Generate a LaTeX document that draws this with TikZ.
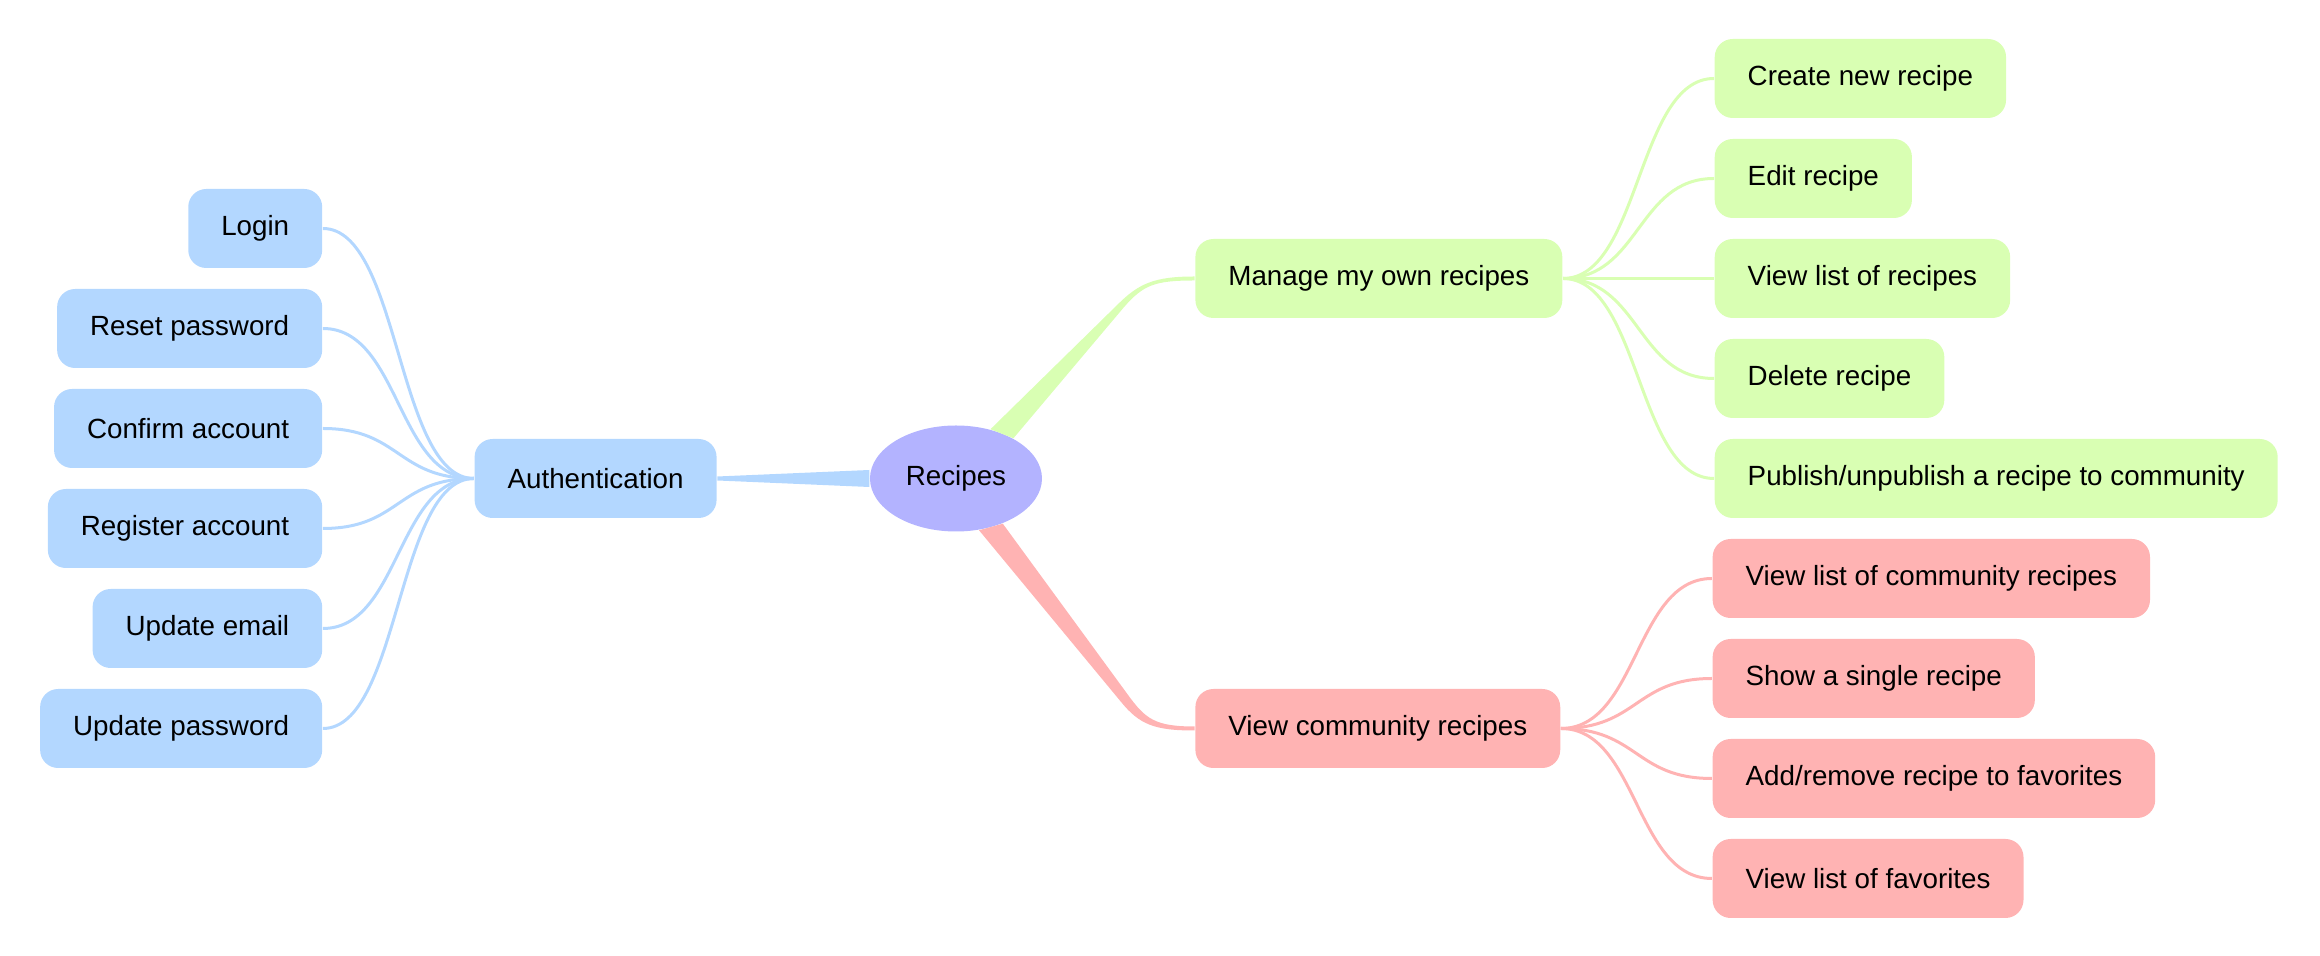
\documentclass[tikz,border=0pt]{standalone}
\usepackage{fontspec}
\setmainfont{Liberation Sans}
\usetikzlibrary{positioning,shapes.geometric}
\definecolor{AuthBlue}{HTML}{B3D7FF}
\definecolor{OwnGreen}{HTML}{D9FFB3}
\definecolor{CommRed}{HTML}{FFB3B3}
\definecolor{RootViolet}{HTML}{B3B3FF}
\tikzset{
  leaf/.style={rounded corners=1.8mm, minimum height=7.9mm, inner xsep=3.3mm, inner ysep=1mm, font=\fontsize{7.9pt}{9.5pt}\selectfont},
  bluebox/.style={leaf, fill=AuthBlue},
  greenbox/.style={leaf, fill=OwnGreen},
  redbox/.style={leaf, fill=CommRed},
  rootnode/.style={ellipse, fill=RootViolet, minimum width=17.2mm, minimum height=10.6mm, inner sep=0pt, font=\fontsize{7.9pt}{9.5pt}\selectfont},
  curvy/.style={line width=0.3mm, to path={.. controls +(7.7mm,0) and +(-7.7mm,0) .. (\tikztotarget)}},
  bline/.style={curvy, draw=AuthBlue},
  gline/.style={curvy, draw=OwnGreen},
  rline/.style={curvy, draw=CommRed}
}
\begin{document}
\begin{tikzpicture}[node distance=15.1mm]
\useasboundingbox (-95.6mm,-47.75mm) rectangle (136.4mm,47.85mm);
\node[rootnode] (root) at (0,0) {Recipes};
\node[bluebox,left=15.2mm of root] (auth) {Authentication};
\node[greenbox,right=15.2mm of root,yshift=20mm] (own) {Manage my own recipes};
\node[redbox,right=15.2mm of root,yshift=-25mm] (comm) {View community recipes};
\node[bluebox,left=of auth,yshift=25mm] (login) {Login};
\node[bluebox,left=of auth,yshift=15mm] (reset) {Reset password};
\node[bluebox,left=of auth,yshift=5mm] (confirm) {Confirm account};
\node[bluebox,left=of auth,yshift=-5mm] (register) {Register account};
\node[bluebox,left=of auth,yshift=-15mm] (email) {Update email};
\node[bluebox,left=of auth,yshift=-25mm] (passwd) {Update password};
\node[greenbox,right=of own,yshift=20mm] (create) {Create new recipe};
\node[greenbox,right=of own,yshift=10mm] (edit) {Edit recipe};
\node[greenbox,right=of own] (ownlist) {View list of recipes};
\node[greenbox,right=of own,yshift=-10mm] (delete) {Delete recipe};
\node[greenbox,right=of own,yshift=-20mm] (publish) {Publish/unpublish a recipe to community};
\node[redbox,right=of comm,yshift=15mm] (commlist) {View list of community recipes};
\node[redbox,right=of comm,yshift=5mm] (single) {Show a single recipe};
\node[redbox,right=of comm,yshift=-5mm] (fav) {Add/remove recipe to favorites};
\node[redbox,right=of comm,yshift=-15mm] (favlist) {View list of favorites};
\fill[AuthBlue] ([yshift=0.85mm]root.west) -- ([yshift=0.2mm]auth.east) -- ([yshift=-0.2mm]auth.east) -- ([yshift=-0.85mm]root.west) -- cycle;
\fill[OwnGreen] (root.55) -- ([shift={(-7.7mm,-2.6mm)}]own.west) .. controls +(45:3mm) and +(-4mm,0) .. ([yshift=0.2mm]own.west) -- ([yshift=-0.2mm]own.west) .. controls +(-4mm,0) and +(49:3mm) .. ([shift={(-7.1mm,-2.9mm)}]own.west) -- (root.35) -- cycle;
\fill[CommRed] (root.-44) -- ([shift={(-6.7mm,3.4mm)}]comm.west) .. controls +(-54:3mm) and +(-4mm,0) .. ([yshift=0.2mm]comm.west) -- ([yshift=-0.2mm]comm.west) .. controls +(-4mm,0) and +(-51:3mm) .. ([shift={(-7.4mm,2.7mm)}]comm.west) -- (root.-66) -- cycle;
\draw[bline] (login.east) to (auth.west);
\draw[bline] (reset.east) to (auth.west);
\draw[bline] (confirm.east) to (auth.west);
\draw[bline] (register.east) to (auth.west);
\draw[bline] (email.east) to (auth.west);
\draw[bline] (passwd.east) to (auth.west);
\draw[gline] (own.east) to (create.west);
\draw[gline] (own.east) to (edit.west);
\draw[gline] (own.east) to (ownlist.west);
\draw[gline] (own.east) to (delete.west);
\draw[gline] (own.east) to (publish.west);
\draw[rline] (comm.east) to (commlist.west);
\draw[rline] (comm.east) to (single.west);
\draw[rline] (comm.east) to (fav.west);
\draw[rline] (comm.east) to (favlist.west);
\end{tikzpicture}
\end{document}
